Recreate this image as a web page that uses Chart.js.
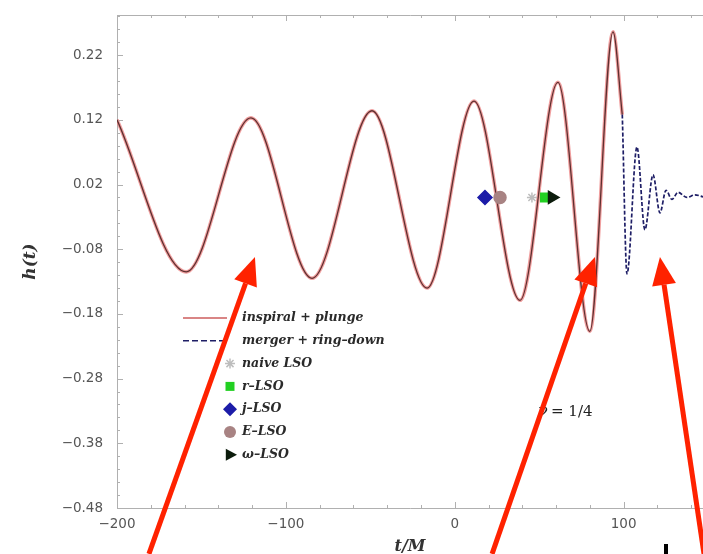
<!DOCTYPE html>
<html>
<head>
<meta charset="utf-8">
<script src="https://cdn.jsdelivr.net/npm/chart.js@4.4.0/dist/chart.umd.min.js"></script>
<style>
  html, body { margin: 0; padding: 0; background: #fff; }
</style>
</head>
<body>
<canvas id="myChart" width="703" height="554"></canvas>
<script>
// inspiral + plunge: t/M and h(t) at each crest and trough
const inspiralT = [-200, -159, -120.7, -84.5, -49, -16.4, 11.4, 38.6, 61.1, 80, 93.7, 99.2];
const inspiralH = [0.12, -0.115, 0.123, -0.125, 0.134, -0.14, 0.149, -0.159, 0.178, -0.207, 0.256, 0.128];

// merger + ring-down
const ringT = [99.2, 102, 107.9, 112.6, 117.4, 121.5, 125.1, 128.6, 132.2, 137.5, 142.2, 147];
const ringH = [0.128, -0.118, 0.078, -0.05, 0.035, -0.024, 0.011, -0.003, 0.008, 0.0, 0.004, 0.001];

// last stable orbit estimates
const lsoNames = ['naive LSO', 'r\u2013LSO', 'j\u2013LSO', 'E\u2013LSO', '\u03c9\u2013LSO'];
const lsoT = [45.7, 53.4, 17.9, 26.8, 57.6];
const lsoH = [0, 0, 0, 0, 0];

const xTicks = [-200, -100, 0, 100];
const yTicks = [-0.48, -0.38, -0.28, -0.18, -0.08, 0.02, 0.12, 0.22];

const lsoStyle = [
  { pointStyle: 'star', color: '#bdbdbd', radius: 5, rotation: 0 },
  { pointStyle: 'rect', color: '#22d022', radius: 6, rotation: 0 },
  { pointStyle: 'rectRot', color: '#1c1ca8', radius: 7, rotation: 0 },
  { pointStyle: 'circle', color: '#a88383', radius: 6, rotation: 0 },
  { pointStyle: 'triangle', color: '#0c1c0c', radius: 7, rotation: 90 }
];

function pts(xs, ys) { return xs.map((v, i) => ({ x: v, y: ys[i] })); }

const minus = v => (v < 0 ? '\u2212' : '') + Math.abs(v);

// lower order is drawn on top
const datasets = [
  { data: pts(inspiralT, inspiralH), borderColor: 'rgba(236,135,135,0.8)', borderWidth: 3.6, pointRadius: 0, cubicInterpolationMode: 'monotone', order: 9 },
  { data: pts(inspiralT, inspiralH), borderColor: '#5e3030', borderWidth: 1.3, pointRadius: 0, cubicInterpolationMode: 'monotone', order: 8 },
  { data: pts(ringT, ringH), borderColor: '#1e1e66', borderWidth: 1.7, borderDash: [4, 2], pointRadius: 0, cubicInterpolationMode: 'monotone', order: 7 }
];
lsoNames.forEach((name, i) => {
  const s = lsoStyle[i];
  datasets.push({
    label: name, data: [{ x: lsoT[i], y: lsoH[i] }], showLine: false, order: 5 - i,
    pointStyle: s.pointStyle, pointRadius: s.radius, pointRotation: s.rotation,
    pointBackgroundColor: s.color, pointBorderColor: s.color, pointBorderWidth: 1.5
  });
});

// box with inward major/minor ticks on left, top and bottom
const framePlugin = {
  id: 'frame',
  beforeDatasetsDraw(chart) {
    const { ctx, chartArea: a, scales: { x, y } } = chart;
    ctx.save();
    ctx.strokeStyle = '#b0b0b0';
    ctx.lineWidth = 1;
    ctx.beginPath();
    ctx.moveTo(a.right, a.top + 0.5);
    ctx.lineTo(a.left + 0.5, a.top + 0.5);
    ctx.lineTo(a.left + 0.5, a.bottom + 0.5);
    ctx.lineTo(a.right, a.bottom + 0.5);
    for (let t = -200; t <= 140; t += 20) {
      const px = Math.round(x.getPixelForValue(t)) + 0.5;
      const len = t % 100 === 0 ? 6 : 3;
      ctx.moveTo(px, a.bottom); ctx.lineTo(px, a.bottom - len);
      ctx.moveTo(px, a.top); ctx.lineTo(px, a.top + len);
    }
    for (let k = 0; k <= 38; k++) {
      const v = -0.48 + k * 0.02;
      const py = Math.round(y.getPixelForValue(v)) + 0.5;
      const len = k % 5 === 0 ? 6 : 3;
      ctx.moveTo(a.left, py); ctx.lineTo(a.left + len, py);
    }
    ctx.stroke();
    ctx.restore();
  }
};

function drawSymbol(ctx, s, cx, cy) {
  ctx.save();
  ctx.fillStyle = s.color;
  ctx.strokeStyle = s.color;
  ctx.lineWidth = 1.5;
  const r = s.radius;
  ctx.beginPath();
  if (s.pointStyle === 'rect') {
    ctx.rect(cx - r * 0.75, cy - r * 0.75, r * 1.5, r * 1.5); ctx.fill();
  } else if (s.pointStyle === 'rectRot') {
    ctx.moveTo(cx, cy - r); ctx.lineTo(cx + r, cy); ctx.lineTo(cx, cy + r); ctx.lineTo(cx - r, cy); ctx.closePath(); ctx.fill();
  } else if (s.pointStyle === 'circle') {
    ctx.arc(cx, cy, r, 0, Math.PI * 2); ctx.fill();
  } else if (s.pointStyle === 'triangle') {
    ctx.moveTo(cx + r, cy); ctx.lineTo(cx - r * 0.6, cy - r * 0.85); ctx.lineTo(cx - r * 0.6, cy + r * 0.85); ctx.closePath(); ctx.fill();
  } else {
    for (let k = 0; k < 4; k++) {
      const ang = k * Math.PI / 4;
      ctx.moveTo(cx - r * Math.cos(ang), cy - r * Math.sin(ang));
      ctx.lineTo(cx + r * Math.cos(ang), cy + r * Math.sin(ang));
    }
    ctx.stroke();
  }
  ctx.restore();
}

function arrow(ctx, x0, y0, x1, y1) {
  const ang = Math.atan2(y1 - y0, x1 - x0);
  const head = 28, half = 12;
  const bx = x1 - head * Math.cos(ang), by = y1 - head * Math.sin(ang);
  ctx.beginPath();
  ctx.moveTo(x0, y0); ctx.lineTo(bx, by);
  ctx.stroke();
  ctx.beginPath();
  ctx.moveTo(x1, y1);
  ctx.lineTo(bx + half * Math.sin(ang), by - half * Math.cos(ang));
  ctx.lineTo(bx - half * Math.sin(ang), by + half * Math.cos(ang));
  ctx.closePath();
  ctx.fill();
}

// tips and tails of the red arrows, in t/M and h
const arrowTipT = [-118.3, 83, 121.5];
const arrowTailT = [-181.1, 22.1, 147.6];
const arrowTipH = -0.092;
const arrowTailH = -0.551;

const notesPlugin = {
  id: 'notes',
  afterDraw(chart) {
    const { ctx, scales: { x, y } } = chart;
    ctx.save();

    // legend
    const rows = ['inspiral + plunge', 'merger + ring\u2013down'].concat(lsoNames);
    const lx = 242, ly = 318, step = 22.8;
    ctx.font = 'italic bold 12.5px "DejaVu Serif"';
    ctx.fillStyle = '#2a2a2a';
    ctx.textBaseline = 'middle';
    rows.forEach((r, i) => ctx.fillText(r, lx, ly + i * step));
    ctx.lineWidth = 2;
    ctx.strokeStyle = '#d98585';
    ctx.beginPath(); ctx.moveTo(183, ly); ctx.lineTo(227, ly); ctx.stroke();
    ctx.strokeStyle = '#1e1e66';
    ctx.lineWidth = 1.6;
    ctx.setLineDash([6, 3]);
    ctx.beginPath(); ctx.moveTo(183, ly + step); ctx.lineTo(227, ly + step); ctx.stroke();
    ctx.setLineDash([]);
    lsoStyle.forEach((s, i) => drawSymbol(ctx, s, 230, ly + (i + 2) * step));

    // mass ratio
    const nx = x.getPixelForValue(49.3), ny = y.getPixelForValue(-0.332);
    ctx.fillStyle = '#222';
    ctx.font = 'italic 16px "DejaVu Serif"';
    ctx.fillText('\u03bd', nx, ny);
    ctx.font = '15px "DejaVu Serif"';
    ctx.fillText('= 1/4', nx + 13, ny);

    // red arrows
    ctx.strokeStyle = '#ff2200';
    ctx.fillStyle = '#ff2200';
    ctx.lineWidth = 5;
    arrowTipT.forEach((t, i) => {
      arrow(ctx, x.getPixelForValue(arrowTailT[i]), y.getPixelForValue(arrowTailH),
        x.getPixelForValue(t), y.getPixelForValue(arrowTipH));
    });

    ctx.fillStyle = '#000';
    ctx.fillRect(664, 544, 4, 10);
    ctx.restore();
  }
};

const tickFont = { family: 'DejaVu Sans', size: 13.5 };

new Chart(document.getElementById('myChart'), {
  type: 'line',
  data: { datasets },
  options: {
    responsive: false,
    animation: false,
    devicePixelRatio: 1,
    layout: { autoPadding: false, padding: { top: 15, right: 0, left: 0, bottom: 0 } },
    plugins: { legend: { display: false }, tooltip: { enabled: false } },
    scales: {
      x: {
        type: 'linear', min: -200, max: 147,
        grid: { display: false, drawTicks: false },
        border: { display: false },
        afterBuildTicks: s => { s.ticks = xTicks.map(v => ({ value: v })); },
        afterFit: s => { s.height = 46; s.paddingLeft = 0; s.paddingRight = 0; },
        ticks: { padding: 8, color: '#555', font: tickFont, maxRotation: 0, callback: v => minus(v) },
        title: { display: true, text: 't/M', color: '#333', padding: { top: 0, bottom: 0 },
          font: { family: 'DejaVu Serif', style: 'italic', weight: 'bold', size: 16, lineHeight: 0.9 } }
      },
      y: {
        type: 'linear', min: -0.48, max: 0.282,
        grid: { display: false, drawTicks: false },
        border: { display: false },
        afterBuildTicks: s => { s.ticks = yTicks.map(v => ({ value: v })); },
        afterFit: s => { s.width = 117; s.paddingTop = 0; s.paddingBottom = 0; },
        ticks: { padding: 14, color: '#555', font: tickFont, callback: v => minus(v.toFixed(2)) },
        title: { display: true, text: 'h(t)', color: '#333', padding: { top: 20, bottom: 0 },
          font: { family: 'DejaVu Serif', style: 'italic', weight: 'bold', size: 17 } }
      }
    }
  },
  plugins: [framePlugin, notesPlugin]
});
</script>
</body>
</html>
